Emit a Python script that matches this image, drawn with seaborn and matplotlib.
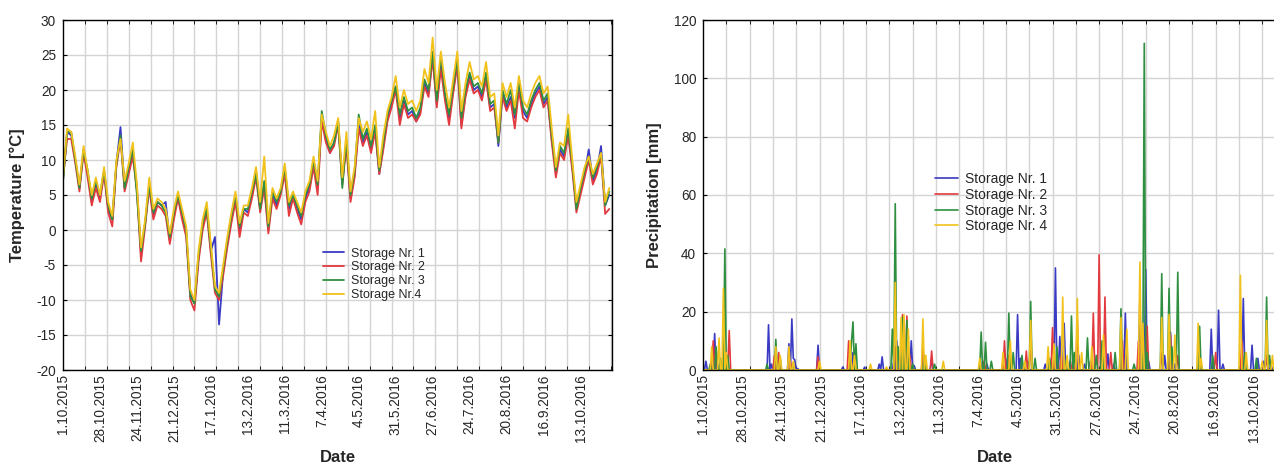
import numpy as np
import pandas as pd
import matplotlib
matplotlib.use("Agg")
import matplotlib.pyplot as plt
from matplotlib.ticker import MultipleLocator, FixedLocator
import seaborn as sns

# ---------------- data ----------------
start_date = "2015-10-01"
n_temp = 134          # temperature readings, every 3rd day
temp_step_days = 3
n_days = 401          # daily precipitation record length

date_labels = ["1.10.2015", "28.10.2015", "24.11.2015", "21.12.2015", "17.1.2016",
               "13.2.2016", "11.3.2016", "7.4.2016", "4.5.2016", "31.5.2016",
               "27.6.2016", "24.7.2016", "20.8.2016", "16.9.2016", "13.10.2016"]

temp_s1 = [7, 14, 13.5, 10, 6, 11.5, 8, 4, 6.5, 4.5,
           8.5, 3, 1.5, 9.5, 14.7, 6, 8.5, 11, 6, -3.5,
           1, 6.5, 2, 4, 3.5, 4, -1.5, 2, 5, 2,
           -0.5, -9, -10.5, -4, 0.5, 3, -3, -1, -13.5, -6,
           -2, 1.5, 4.5, 0, 3, 2.5, 5, 8.5, 3, 6.5,
           0, 5, 3.5, 5.5, 8.5, 3, 5, 3, 1.5, 4.5,
           6, 9.5, 6, 16, 13, 11, 12.5, 15.5, 7, 12.5,
           4.5, 8, 15, 12.5, 14, 11.5, 14.5, 8, 12, 16,
           18, 20.5, 16, 18.5, 16.5, 17, 15.5, 17, 21, 19.5,
           25, 18, 24, 19, 16, 20, 24, 15, 19.5, 22,
           20, 20.5, 19, 22, 17.5, 18, 12, 19.5, 17.5, 19,
           16, 20.5, 17, 16, 18, 19.5, 20.5, 18, 19, 13,
           8.5, 11.5, 10.5, 14, 9, 3.5, 5.5, 8, 11.5, 7,
           8.5, 12, 3.5, 5]
temp_s2 = [7.5, 13, 13, 9.5, 5.5, 11, 7.5, 3.5, 6, 4,
           8, 2.5, 0.5, 9, 13, 5.5, 8, 10.5, 5.5, -4.5,
           0.5, 6, 1.5, 3.5, 3, 2, -2, 1.5, 4.5, 1.5,
           -1, -10, -11.5, -4.5, 0, 2.5, -3.5, -9, -10, -6.5,
           -2.5, 1, 4, -1, 2.5, 2, 4.5, 7.5, 2.5, 6,
           -0.5, 4.5, 3, 5, 8, 2, 4.5, 2.5, 0.8, 4,
           5.5, 9, 5, 15.5, 12.5, 11, 12, 15, 6.5, 12,
           4, 7.5, 14.5, 12, 13.5, 11, 14, 8, 11.5, 15.5,
           17.5, 20, 15, 18, 16, 16.5, 15.5, 16.5, 20.5, 19,
           24.5, 17.5, 23, 18.5, 15, 19.5, 23.5, 14.5, 19, 21.5,
           19.5, 20, 18.5, 21.5, 17, 17.5, 12.5, 19, 17, 18.5,
           14.5, 20, 16, 15.5, 17.5, 19, 20, 17.5, 18.5, 12.5,
           7.5, 11, 10, 13.5, 8.5, 2.5, 5, 7.5, 10, 6.5,
           8, 10.5, 2.3, 3]
temp_s3 = [7, 14, 14, 10, 6, 11.5, 8.5, 4.5, 7, 5,
           8.5, 3.5, 1.5, 9.5, 13.5, 6, 9, 11.5, 5, -3,
           1, 6.5, 2.5, 4, 3.5, 2.5, -1, 2.5, 5, 2.5,
           0, -9.5, -10.5, -3.5, 1, 3, -2.5, -8.5, -9.5, -5.5,
           -1.5, 2, 5, 0.5, 3, 3, 5.5, 8, 3, 7,
           0.5, 5.5, 4, 5.5, 9, 3.5, 5, 3.5, 2, 5,
           6.5, 10, 6.5, 17, 13.5, 11.5, 12.5, 15.5, 6, 13,
           5, 8.5, 16.5, 13, 14.5, 12, 15, 8.5, 12.5, 16.5,
           18.5, 20.5, 16.5, 19, 17, 17.5, 16, 17.5, 21.5, 20,
           25.5, 18.5, 25, 19.5, 16.5, 20.5, 24.5, 16, 20, 22.5,
           20.5, 21, 19.5, 22.5, 18, 18.5, 12.5, 20, 18, 20,
           16.5, 21, 17.5, 16.5, 18.5, 20, 21, 18.5, 19.5, 13.5,
           8.5, 12, 11, 14.5, 9.5, 3, 6, 8.5, 10.5, 7.5,
           9, 11, 3.5, 5.5]
temp_s4 = [7.5, 14.5, 14, 10.5, 6.5, 12, 8.5, 5, 7.5, 5,
           9, 4, 2, 10, 13, 7, 9.5, 12.5, 6.5, -2.5,
           1.5, 7.5, 3, 4.5, 4, 3, -0.5, 3, 5.5, 3,
           0.5, -8.5, -10, -3, 1.5, 4, -2, -8, -9, -5,
           -1, 2.5, 5.5, 1, 3.5, 3.5, 6, 9, 4, 10.5,
           1, 6, 4.5, 6, 9.5, 4, 5.5, 4, 2.5, 5.5,
           7, 10.5, 7, 16.5, 14, 12, 13.5, 16, 7.5, 14,
           5.5, 9, 16, 14, 15.5, 13, 17, 9, 13.5, 17,
           19, 22, 17.5, 20, 18, 18.5, 17, 18.5, 23, 21,
           27.5, 20, 25.5, 21, 17.5, 21.5, 25.5, 17, 21, 24,
           21.5, 22, 20.5, 24, 19, 19.5, 13.5, 21, 19, 21,
           17.5, 22, 18.5, 17.5, 19.5, 21, 22, 19.5, 20.5, 14.5,
           9, 12.5, 12, 16.5, 10, 4, 6.5, 9, 10.5, 8,
           9.5, 11, 4, 6]

# precipitation: rainy days (day index from 1.10.2015) and amounts [mm]
rain_days_s1 = [2, 8, 10, 16, 45, 47, 50, 59, 61, 62, 63, 65, 79, 96, 101, 103, 111, 121, 123,
                131, 133, 136, 140, 143, 145, 151, 157, 192, 195, 209, 216, 218, 223, 235,
                242, 245, 248, 252, 258, 262, 266, 278, 282, 290, 300, 304, 306, 317, 321,
                324, 349, 354, 357, 371, 377, 381, 385, 390]
rain_mm_s1 = [3, 12.5, 2, 5, 15.5, 2, 4, 9, 17.5, 4, 3.5, 0.5, 8.5, 1, 3, 6, 1, 2, 4.5,
              3, 10, 5, 8, 10, 1.5, 4, 4, 3, 2, 4, 19, 4, 3, 2,
              35, 11.5, 16, 3, 5, 2, 3, 5.5, 2, 19.5, 24, 34.5, 3, 5, 13,
              2, 14, 20.5, 2, 24.5, 8.5, 4, 3, 2]
rain_days_s2 = [7, 9, 14, 18, 49, 52, 60, 79, 100, 104, 132, 137, 140, 142, 151, 157, 193,
                207, 210, 222, 225, 240, 246, 254, 257, 268, 272, 276, 280, 288, 299, 305,
                315, 321, 326, 341, 352, 370, 387]
rain_mm_s2 = [10, 7, 5, 13.5, 5, 6, 3, 4.5, 10, 4, 8, 19, 18.5, 5, 8, 6.5, 3,
              10, 5, 6.5, 12, 14.5, 5, 4, 17, 19.5, 39.5, 25, 6, 10, 10, 15,
              6, 12, 5, 3, 6, 10, 5]
rain_days_s3 = [5, 9, 12, 15, 17, 44, 50, 53, 62, 102, 103, 105, 130, 132, 134, 137, 140,
                144, 152, 159, 191, 194, 198, 210, 213, 219, 225, 228, 238, 243, 249, 253,
                255, 264, 270, 274, 283, 287, 296, 303, 305, 315, 320, 322, 326, 341, 350,
                372, 380, 387, 389]
rain_mm_s3 = [2, 8, 4, 41.5, 5, 2, 10.5, 4, 2, 10, 16.5, 9, 14, 57, 8, 18, 17,
              2, 5, 2, 13, 9.5, 3, 19.5, 6, 5, 23.5, 4, 4, 8, 3, 18.5,
              6, 11, 5, 10, 6, 21, 2, 112, 6, 33, 28, 8, 33.5, 15, 5,
              6, 4, 25, 5]
rain_days_s4 = [6, 11, 14, 16, 50, 53, 59, 62, 80, 101, 104, 115, 126, 132, 136, 138, 141,
                151, 153, 165, 190, 206, 211, 221, 225, 237, 241, 247, 250, 257, 260, 267,
                275, 287, 291, 300, 302, 315, 320, 324, 340, 342, 369, 373, 384, 387, 391]
rain_mm_s4 = [8, 11, 28, 6, 8, 5, 8, 3, 3, 10, 5, 2, 1, 30, 18, 19, 14,
              17.5, 5, 3, 4, 6, 10, 3, 17, 8, 9, 25, 5, 24.5, 6, 8,
              12, 18, 14, 37, 16, 18, 19, 12, 16, 4, 32.5, 6, 3, 17, 5]

series_names_left = ["Storage Nr. 1", "Storage Nr. 2", "Storage Nr. 3", "Storage Nr.4"]
series_names_right = ["Storage Nr. 1", "Storage Nr. 2", "Storage Nr. 3", "Storage Nr. 4"]
colors = ["#3a3ac4", "#e23a3e", "#2f8f40", "#f2c21c"]

# ---------------- build frames ----------------
t0 = pd.Timestamp(start_date)
temp_days = np.arange(n_temp) * temp_step_days
label_days = [(pd.to_datetime(s, format="%d.%m.%Y") - t0).days for s in date_labels]

temp_series = [temp_s1, temp_s2, temp_s3, temp_s4]
rain_days = [rain_days_s1, rain_days_s2, rain_days_s3, rain_days_s4]
rain_mm = [rain_mm_s1, rain_mm_s2, rain_mm_s3, rain_mm_s4]
daily = np.arange(n_days)
rain_series = []
for d, v in zip(rain_days, rain_mm):
    arr = np.zeros(n_days)
    arr[np.array(d)] = np.array(v)
    rain_series.append(arr)

# ---------------- plot ----------------
sns.set_style("white")
plt.rcParams["font.family"] = ["Liberation Sans", "DejaVu Sans"]
plt.rcParams["axes.unicode_minus"] = False

W, H = 1274, 468
fig = plt.figure(figsize=(W / 100, H / 100), dpi=100)
axL = fig.add_axes([63 / W, 1 - 370 / H, 549 / W, 350 / H])
axR = fig.add_axes([703 / W, 1 - 370 / H, 584 / W, 350 / H])

for vals, name, c in zip(temp_series, series_names_left, colors):
    sns.lineplot(x=temp_days, y=vals, ax=axL, color=c, linewidth=1.3, label=name)
for vals, name, c in zip(rain_series, series_names_right, colors):
    sns.lineplot(x=daily, y=vals, ax=axR, color=c, linewidth=1.2, label=name)

grid_kw = dict(color="#d4d4d4", linewidth=1.0)
for ax in (axL, axR):
    ax.set_xlim(0, 401)
    ax.xaxis.set_major_locator(FixedLocator(label_days))
    ax.set_xticklabels(date_labels, rotation=90, fontsize=9.8)
    ax.xaxis.set_minor_locator(MultipleLocator(16))
    ax.grid(which="minor", axis="x", **grid_kw)
    ax.grid(which="major", axis="y", **grid_kw)
    ax.grid(which="major", axis="x", visible=False)
    ax.set_axisbelow(True)
    ax.tick_params(axis="x", which="major", length=0, pad=3)
    ax.tick_params(axis="x", which="minor", length=3, direction="in", top=True, bottom=True, color="black")
    ax.tick_params(axis="y", which="major", length=3, direction="in", left=True, right=True,
                   labelsize=9.8, pad=5, color="black")
    for s in ax.spines.values():
        s.set_visible(True)
        s.set_color("black")
        s.set_linewidth(1.0)
    ax.set_xlabel("Date", fontsize=12, fontweight="bold", labelpad=6)

axL.set_ylim(-20, 30)
axL.yaxis.set_major_locator(MultipleLocator(5))
axL.set_ylabel("Temperature [°C]", fontsize=12, fontweight="bold", labelpad=8)
axR.set_ylim(0, 120)
axR.yaxis.set_major_locator(MultipleLocator(20))
axR.set_ylabel("Precipitation [mm]", fontsize=12, fontweight="bold", labelpad=8)

axL.legend(loc="upper left", bbox_to_anchor=(0.474, 0.35), frameon=False, fontsize=9,
           handlelength=1.7, handletextpad=0.5, labelspacing=0.15, borderpad=0, borderaxespad=0)
axR.legend(loc="upper left", bbox_to_anchor=(0.397, 0.565), frameon=False, fontsize=10,
           handlelength=1.7, handletextpad=0.5, labelspacing=0.12, borderpad=0, borderaxespad=0)

fig.savefig("out.png", dpi=100)
